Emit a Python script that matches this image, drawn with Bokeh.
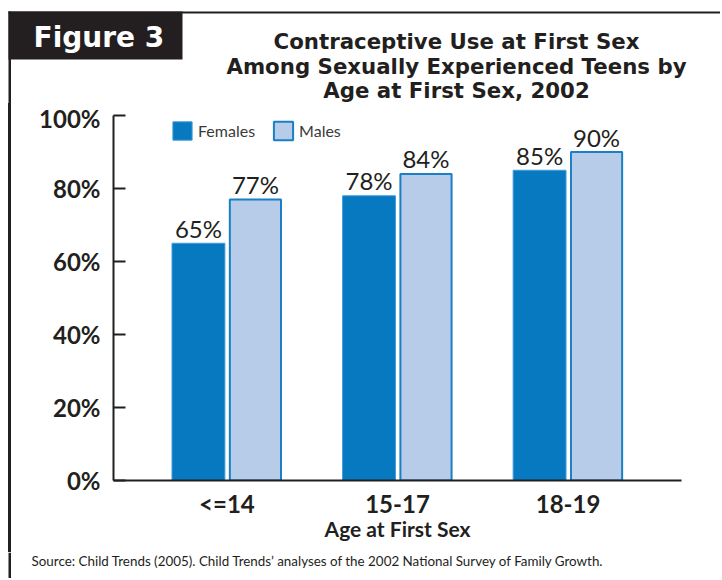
from bokeh.plotting import figure
from bokeh.layouts import column, row
from bokeh.models import (ColumnDataSource, FactorRange, Range1d, Legend, LegendItem, FixedTicker, Div)
from bokeh.transform import dodge
from bokeh.core.properties import value
from bokeh.embed import file_html
from bokeh.resources import INLINE

# ---- data ----
categories = ["<=14", "15-17", "18-19"]
females = [65, 78, 85]
males = [77, 84, 90]
series_names = ["Females", "Males"]
y_ticks = [0, 20, 40, 60, 80, 100]
y_tick_labels = ["0%", "20%", "40%", "60%", "80%", "100%"]
title_lines = ["Contraceptive Use at First Sex",
               "Among Sexually Experienced Teens by",
               "Age at First Sex, 2002"]
fig_tag = ["Figure 3"]
x_title = "Age at First Sex"
source_note = ["Source: Child Trends (2005). Child Trends\u2019 analyses of the 2002 National Survey of Family Growth."]

DARK = "#231f20"
F_FILL = "#0679c1"
F_LINE = "#3f9cd8"
M_FILL = "#b6cce8"
M_LINE = "#1a7fc4"

TOTAL_W = 720
TOP_H = 103
MAIN_H = 449          # page y 103 .. 552
BOT_H = 26            # page y 552 .. 578
STRIP_W = 11


def blank(w, h, xr, yr):
    f = figure(width=w, height=h, x_range=xr, y_range=yr, x_axis_type=None, y_axis_type=None,
               output_backend="svg", toolbar_location=None,
               min_border_left=0, min_border_right=0, min_border_top=0, min_border_bottom=0)
    f.outline_line_color = None
    f.border_fill_color = "white"
    f.background_fill_color = "white"
    return f


# ---- header (page coords, y down) ----
top = blank(TOTAL_W, TOP_H, Range1d(0, TOTAL_W), Range1d(TOP_H, 0))
top.quad(left=[8], right=[182], top=[11], bottom=[59], fill_color=DARK, line_color=None)
top.quad(left=[8], right=[TOTAL_W], top=[11], bottom=[13], fill_color=DARK, line_color=None)
top.quad(left=[8], right=[10.5], top=[11], bottom=[TOP_H], fill_color=DARK, line_color=None)
top.text(x=[33], y=[37], text=fig_tag, text_font=value("DejaVu Sans"), text_font_style="bold",
         text_font_size="28px", text_color="white", text_align="left", text_baseline="middle")
top.text(x=[456] * 3, y=[40.5, 65.5, 90], text=title_lines, text_font=value("DejaVu Sans"),
         text_font_style="bold", text_font_size="21.3px", text_color=DARK,
         text_align="center", text_baseline="middle")

# ---- left rule strip (plain HTML block, no text) ----
strip = Div(text=f'<div style="position:absolute;left:8px;top:0;width:2.5px;height:{MAIN_H}px;'
                 f'background:{DARK}"></div>',
            width=STRIP_W, height=MAIN_H, margin=0,
            styles={"position": "relative", "overflow": "visible"})

# ---- main chart ----
src = ColumnDataSource(dict(
    cat=categories, females=females, males=males,
    f_lab=[f"{v}%" for v in females], m_lab=[f"{v}%" for v in males]))

p = figure(width=TOTAL_W - STRIP_W, height=MAIN_H,
           x_range=FactorRange(*categories, range_padding=0.11),
           y_range=Range1d(0, 100),
           output_backend="svg", toolbar_location=None,
           min_border_left=113 - STRIP_W, min_border_right=TOTAL_W - 681,
           min_border_top=115 - TOP_H, min_border_bottom=TOP_H + MAIN_H - 480)
p.outline_line_color = None
p.xgrid.visible = False
p.ygrid.visible = False
p.background_fill_color = "white"
p.border_fill_color = "white"

OFF = 0.167
W = 0.31
rf = p.vbar(x=dodge("cat", -OFF, range=p.x_range), top="females", width=W, source=src,
            fill_color=F_FILL, line_color=F_LINE, line_width=1)
rm = p.vbar(x=dodge("cat", OFF, range=p.x_range), top="males", width=W - 0.01, source=src,
            fill_color=M_FILL, line_color=M_LINE, line_width=2)

p.text(x=dodge("cat", -OFF, range=p.x_range), y="females", text="f_lab", source=src,
       text_align="center", text_baseline="middle", y_offset=-15,
       text_font=value("Lato"), text_font_size="24px", text_color=DARK)
p.text(x=dodge("cat", OFF, range=p.x_range), y="males", text="m_lab", source=src,
       text_align="center", text_baseline="middle", y_offset=-15,
       text_font=value("Lato"), text_font_size="24px", text_color=DARK)

ya = p.yaxis[0]
ya.ticker = FixedTicker(ticks=y_ticks)
ya.major_label_overrides = {t: l for t, l in zip(y_ticks, y_tick_labels)}
ya.axis_line_color = DARK
ya.axis_line_width = 2
ya.major_tick_in = 12
ya.major_tick_out = 0
ya.major_tick_line_color = DARK
ya.major_tick_line_width = 2
ya.minor_tick_line_color = None
ya.major_label_standoff = 13
ya.major_label_text_font = "Lato"
ya.major_label_text_font_style = "bold"
ya.major_label_text_font_size = "24px"
ya.major_label_text_color = DARK

xa = p.xaxis[0]
xa.axis_line_color = DARK
xa.axis_line_width = 2
xa.major_tick_line_color = None
xa.major_tick_in = 0
xa.major_tick_out = 0
xa.minor_tick_line_color = None
xa.major_label_standoff = 8
xa.major_label_text_font = "Lato"
xa.major_label_text_font_style = "bold"
xa.major_label_text_font_size = "24px"
xa.major_label_text_color = DARK
xa.axis_label = x_title
xa.axis_label_standoff = -5
xa.axis_label_text_font = "Lato"
xa.axis_label_text_font_style = "bold"
xa.axis_label_text_font_size = "21px"
xa.axis_label_text_color = DARK

legend = Legend(items=[LegendItem(label=series_names[0], renderers=[rf]),
                       LegendItem(label=series_names[1], renderers=[rm])],
                orientation="horizontal", location=(57, 338),
                glyph_width=24, glyph_height=23, label_height=23,
                label_standoff=4, spacing=16, padding=0, margin=0,
                border_line_color=None, background_fill_alpha=0,
                label_text_font="Lato", label_text_font_size="16px",
                label_text_color="#3a3a3a")
p.add_layout(legend)

# ---- footer ----
bot = blank(TOTAL_W, BOT_H, Range1d(0, TOTAL_W), Range1d(BOT_H, 0))
bot.quad(left=[8], right=[10.5], top=[0], bottom=[BOT_H], fill_color=DARK, line_color=None)
bot.text(x=[31], y=[8], text=source_note, text_font=value("Lato"), text_font_size="13.4px",
         text_color=DARK, text_align="left", text_baseline="middle")

layout = column(top, row(strip, p, spacing=0), bot, spacing=0)
open("out.html", "w").write(file_html(layout, INLINE))
